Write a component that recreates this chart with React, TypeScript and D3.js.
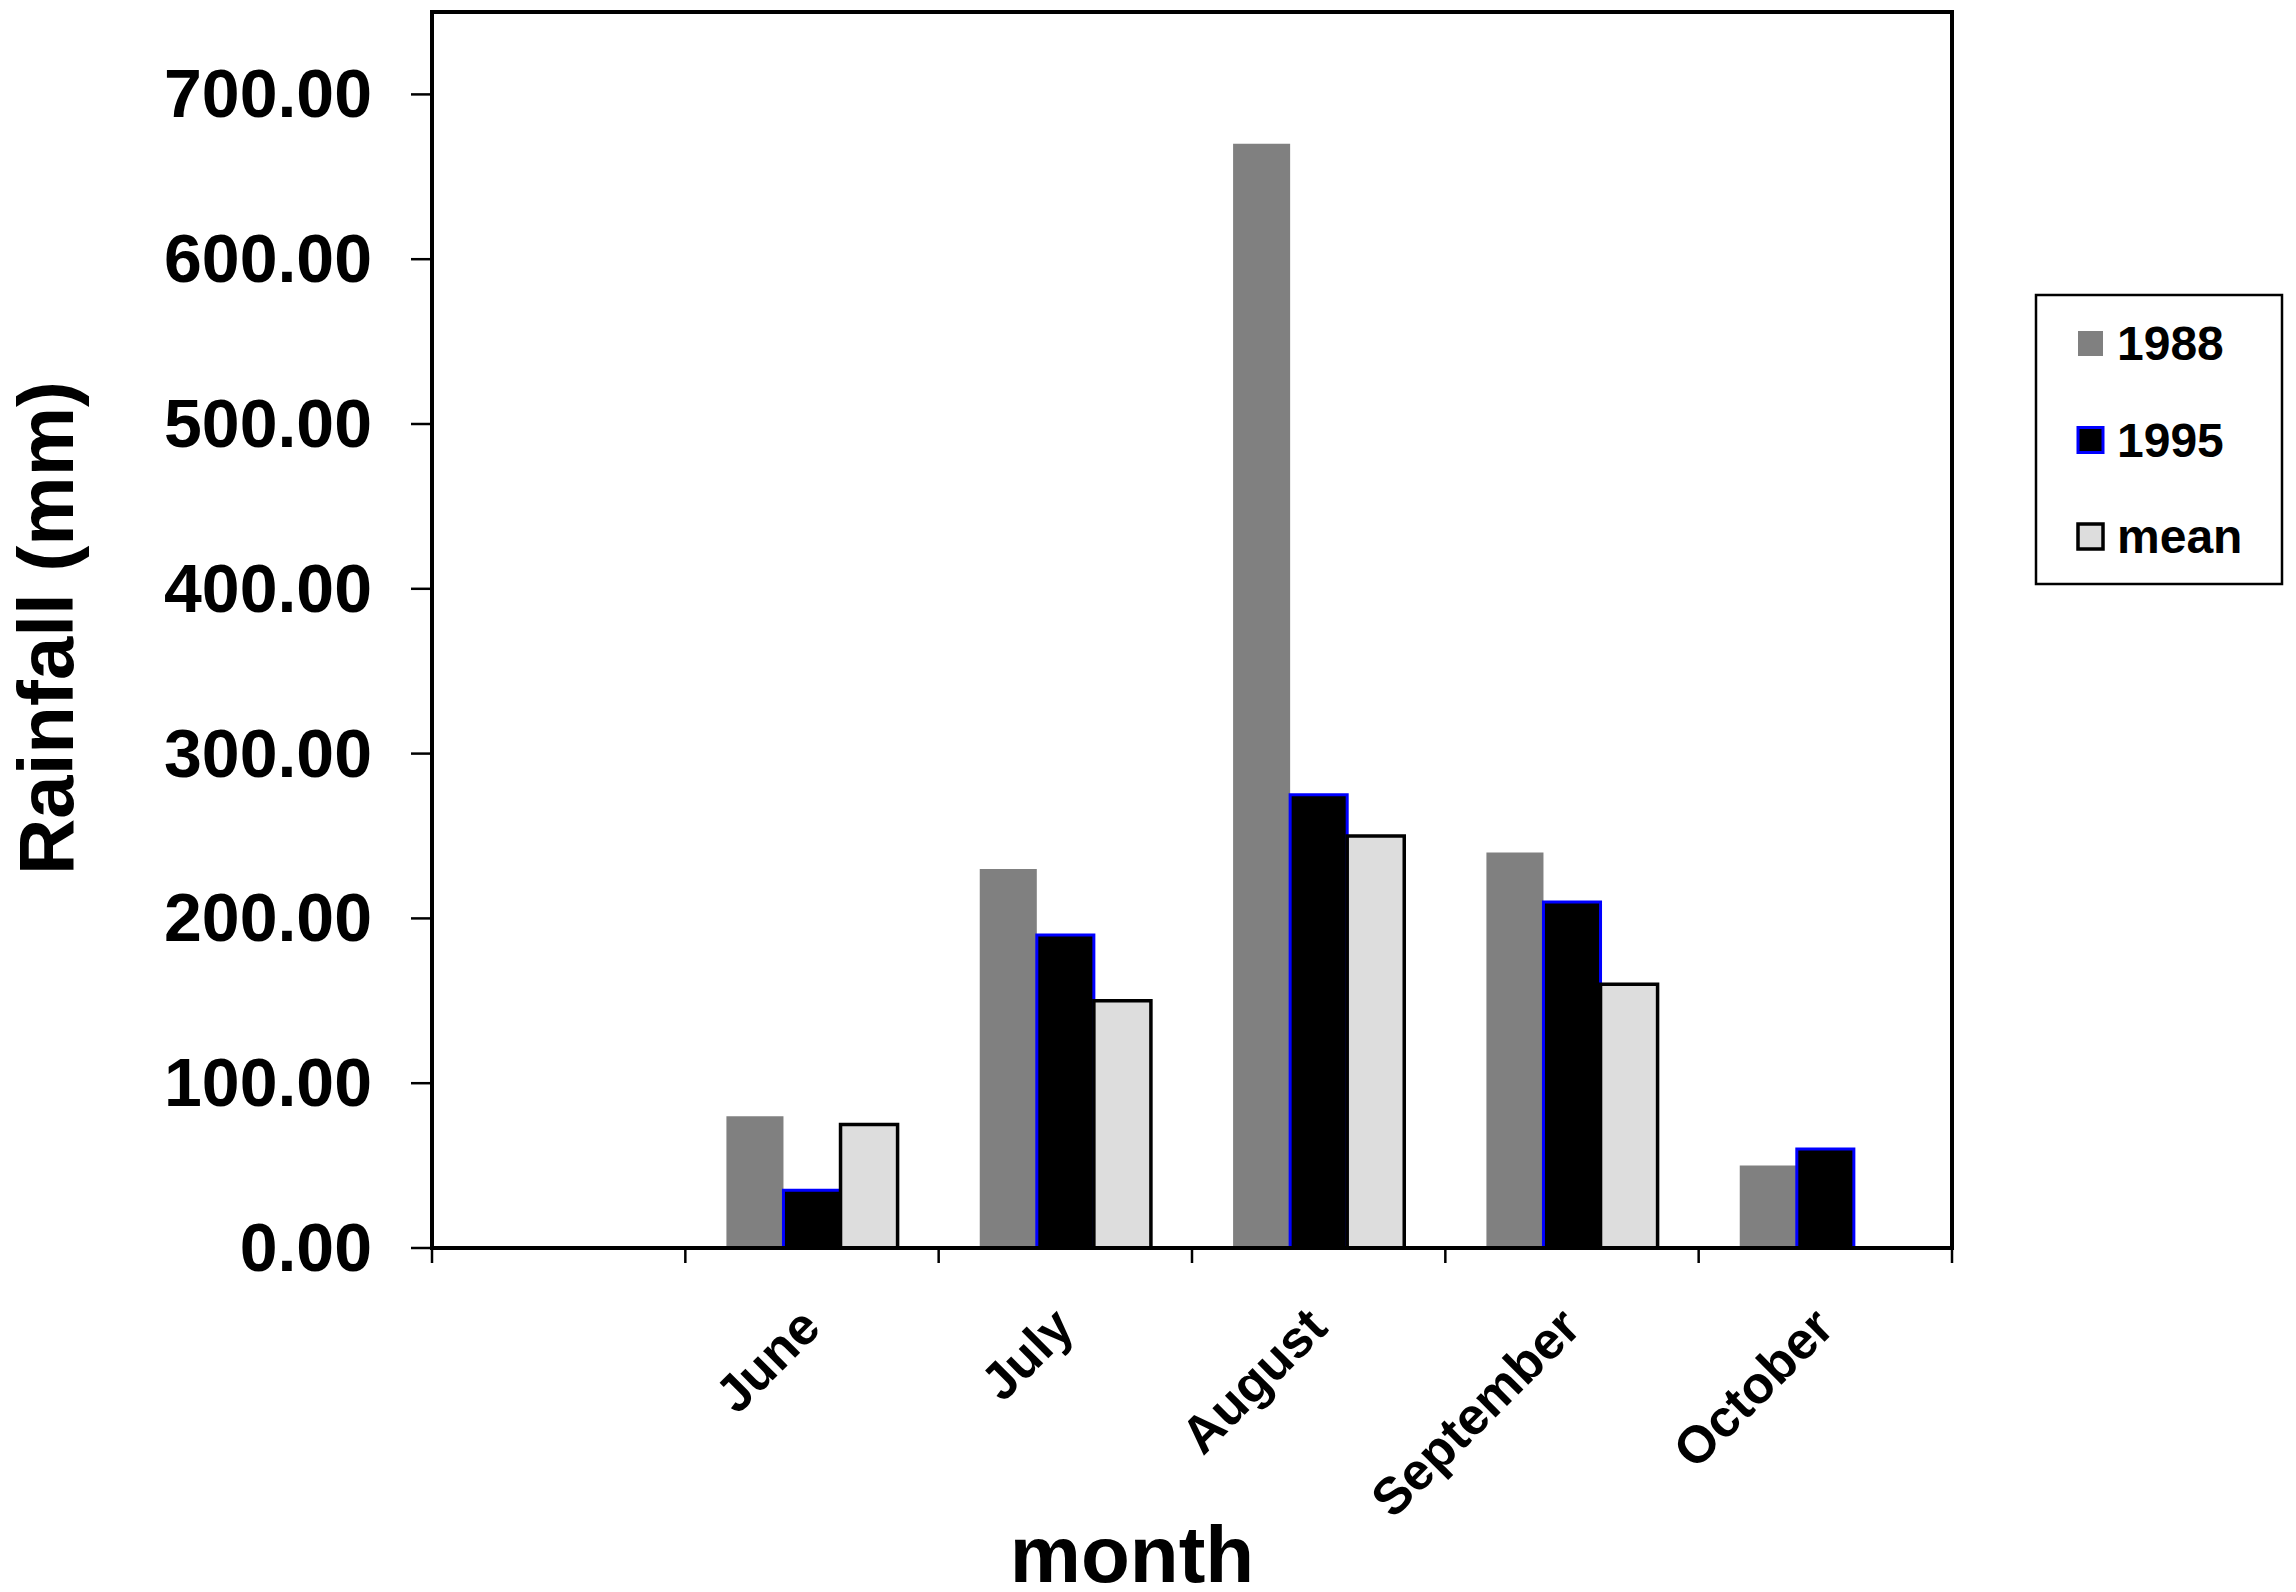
import React from "react";
import * as d3 from "d3";

const categories = ["", "June", "July", "August", "September", "October"];
const seriesNames = ["1988", "1995", "mean"];
const values1988 = [null, 80, 230, 670, 240, 50];
const values1995 = [null, 35, 190, 275, 210, 60];
const valuesMean = [null, 75, 150, 250, 160, 0];
const yTicks = [0, 100, 200, 300, 400, 500, 600, 700];

const W = 2296;
const H = 1592;
const FONT = "'Liberation Sans', Arial, Helvetica, sans-serif";

const seriesStyle: Record<string, { fill: string; stroke: string; sw: number }> = {
  "1988": { fill: "#808080", stroke: "none", sw: 0 },
  "1995": { fill: "#000000", stroke: "#0000ff", sw: 3 },
  mean: { fill: "#dddddd", stroke: "#000000", sw: 3.5 },
};

export default function App() {
  const left = 432, right = 1952, top = 12, bottom = 1248;
  const x = d3.scaleBand<string>().domain(categories.map((c, i) => String(i))).range([left, right]).paddingInner(0).paddingOuter(0);
  const xs = d3.scaleBand<string>().domain(seriesNames).range([0, x.bandwidth()]).paddingInner(0).paddingOuter(0.72);
  const y = d3.scaleLinear().domain([0, 750]).range([bottom, top]);
  const fmt = d3.format(".2f");
  const seriesValues: Record<string, (number | null)[]> = {
    "1988": values1988,
    "1995": values1995,
    mean: valuesMean,
  };
  const boundaries = d3.range(categories.length + 1).map((i) => left + i * x.step());

  return (
    <svg width={W} height={H} style={{ position: "absolute", left: 0, top: 0, background: "#fff" }} fontFamily={FONT}>
      <rect x={0} y={0} width={W} height={H} fill="#fff" />
      {/* bars */}
      {seriesNames.map((s) =>
        categories.map((c, i) => {
          const v = seriesValues[s][i];
          if (v === null || v === undefined) return null;
          const st = seriesStyle[s];
          const x0 = (x(String(i)) as number) + (xs(s) as number);
          const w = xs.bandwidth();
          const y0 = y(v);
          const h = y(0) - y0;
          return (
            <path
              key={s + i}
              d={`M${x0},${y0}h${w}v${h}h${-w}Z`}
              fill={st.fill}
              stroke={st.stroke}
              strokeWidth={st.sw}
            />
          );
        })
      )}
      {/* frame */}
      <rect x={left} y={top} width={right - left} height={bottom - top} fill="none" stroke="#000" strokeWidth={4} />
      {/* y ticks */}
      {yTicks.map((t) => (
        <g key={t}>
          <line x1={411} x2={left} y1={y(t)} y2={y(t)} stroke="#000" strokeWidth={2.5} />
          <text x={372} y={y(t) + 23} textAnchor="end" fontSize={68} fontWeight="bold" fill="#000">
            {fmt(t)}
          </text>
        </g>
      ))}
      {/* x ticks */}
      {boundaries.map((b, i) => (
        <line key={i} x1={b} x2={b} y1={bottom} y2={bottom + 15} stroke="#000" strokeWidth={2.5} />
      ))}
      {/* x labels */}
      {categories.map((c, i) =>
        c ? (
          <text
            key={c}
            transform={`translate(${(x(String(i)) as number) + x.bandwidth() / 2 + 11}, ${bottom + 82}) rotate(-45)`}
            textAnchor="end"
            fontSize={52}
            fontWeight="bold"
            fill="#000"
          >
            {c}
          </text>
        ) : null
      )}
      {/* axis titles */}
      <text x={1132} y={1582} textAnchor="middle" fontSize={80} fontWeight="bold" fill="#000">
        month
      </text>
      <text transform={`translate(73, 628) rotate(-90)`} textAnchor="middle" fontSize={78} fontWeight="bold" fill="#000">
        Rainfall (mm)
      </text>
      {/* legend */}
      <rect x={2036} y={295} width={246} height={289} fill="#fff" stroke="#000" strokeWidth={2.5} />
      {seriesNames.map((s, i) => {
        const st = seriesStyle[s];
        const cy = 343.5 + i * 96.5;
        return (
          <g key={s}>
            <rect
              x={2078}
              y={cy - 12.5}
              width={25}
              height={25}
              fill={st.fill}
              stroke={st.stroke}
              strokeWidth={st.sw}
            />
            <text x={2117} y={cy + 16.5} fontSize={48} fontWeight="bold" fill="#000">
              {s}
            </text>
          </g>
        );
      })}
    </svg>
  );
}
